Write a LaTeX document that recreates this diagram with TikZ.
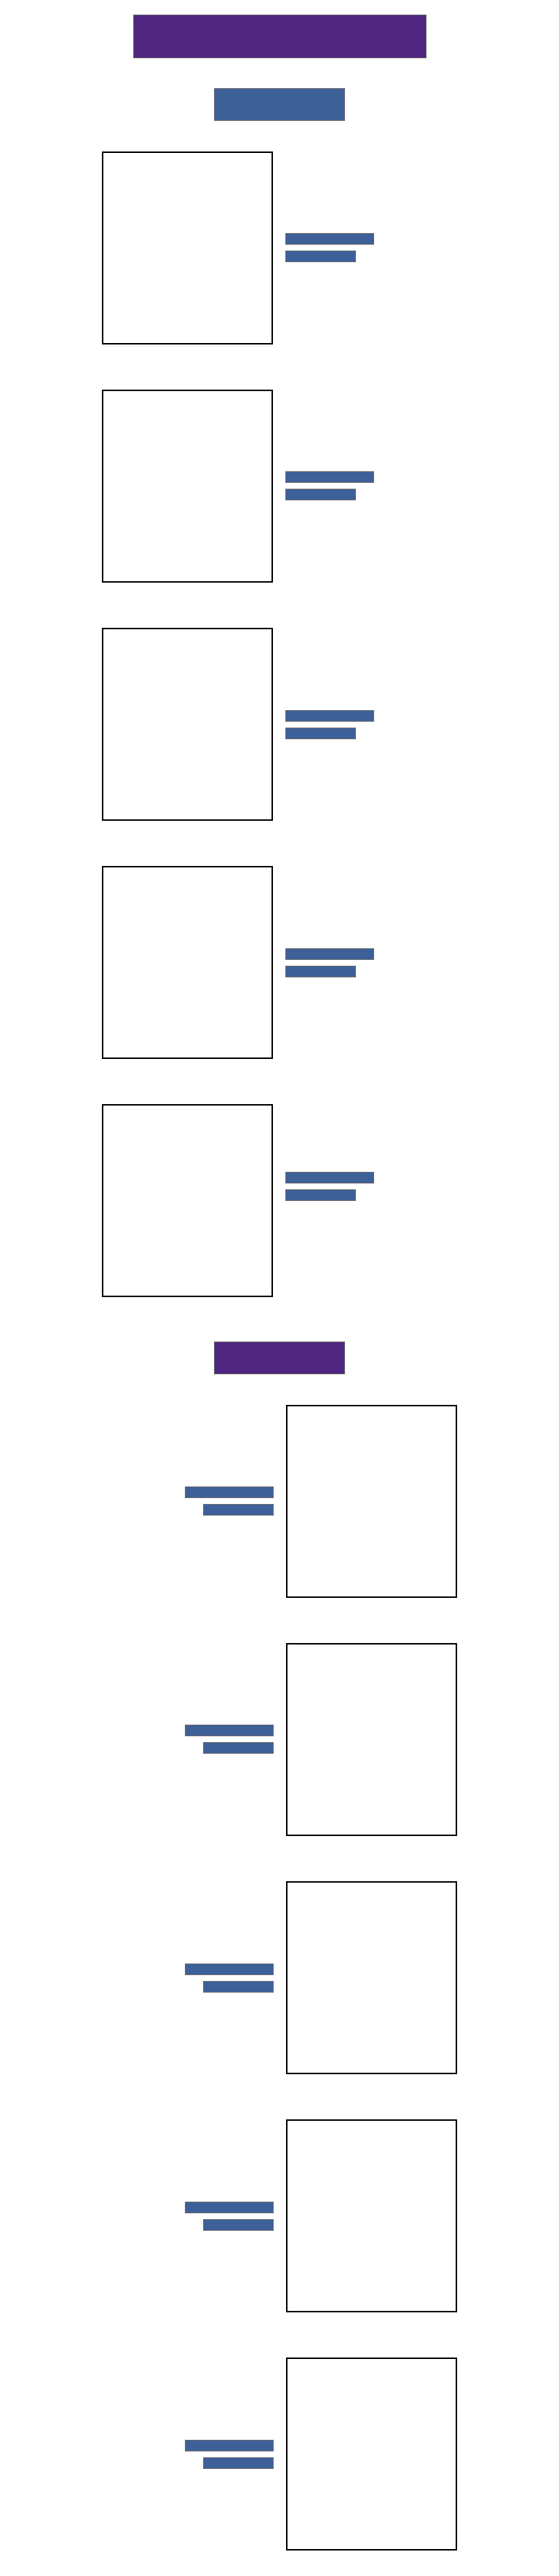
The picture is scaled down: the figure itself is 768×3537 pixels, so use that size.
\documentclass[tikz,border=0pt]{standalone}
\usepackage{tikz}
\definecolor{hdrpurple}{HTML}{4F2680}
\definecolor{hdrblue}{HTML}{3E6099}
\definecolor{edgegray}{HTML}{6E6E6E}
\tikzset{
  header/.style={draw=edgegray, line width=1pt, inner sep=0pt, outer sep=0pt, minimum height=44pt},
  panel/.style={draw=black, line width=2pt, fill=white, inner sep=0pt, outer sep=0pt, minimum width=233pt, minimum height=263.3pt},
  bar/.style={draw=edgegray, line width=1pt, fill=hdrblue, inner sep=0pt, outer sep=0pt, minimum height=15pt},
  longbar/.style={bar, minimum width=120.7pt},
  shortbar/.style={bar, minimum width=95.5pt}
}
\begin{document}
\begin{tikzpicture}[x=1pt,y=-1pt]
\useasboundingbox[fill=white] (0,0) rectangle (768,3537);
% title
\node[header, fill=hdrpurple, minimum width=402pt, minimum height=59pt] (title) at (384,50.3) {};
% first section header
\node[header, fill=hdrblue, minimum width=179pt] (sec1) at (384,143.8) {};
% left column panels
\foreach \i/\off in {1/0,2/0,3/0,4/0,5/-20}{
  \pgfmathsetmacro{\cy}{340.35+327.1*(\i-1)}
  \pgfmathsetmacro{\by}{\cy+\off}
  \node[panel] (lbox\i) at (257.85,\cy) {};
  \node[longbar, anchor=west] (lbarA\i) at (392.5,\by-12) {};
  \node[shortbar, anchor=west] (lbarB\i) at (392.5,\by+12) {};
}
% second section header
\node[header, fill=hdrpurple, minimum width=178.4pt] (sec2) at (384,1864.8) {};
% right column panels
\foreach \i in {1,...,5}{
  \pgfmathsetmacro{\cy}{2061.35+327.1*(\i-1)}
  \node[panel] (rbox\i) at (510,\cy) {};
  \node[longbar, anchor=east] (rbarA\i) at (375.2,\cy-12) {};
  \node[shortbar, anchor=east] (rbarB\i) at (375.2,\cy+12) {};
}
\end{tikzpicture}
\end{document}
